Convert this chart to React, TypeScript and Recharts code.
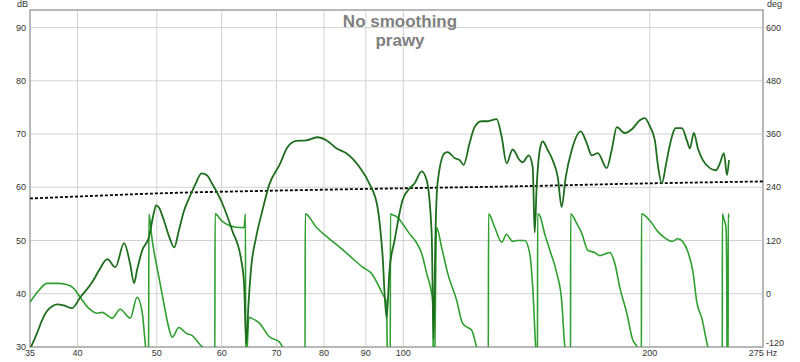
import React from 'react';
import { LineChart, Line, XAxis, YAxis, CartesianGrid, ReferenceArea } from 'recharts';

// Magnitude (dB) – dark green
const magFreq = [35.0, 35.7, 36.2, 36.7, 37.3, 37.8, 38.5, 39.4, 40.3, 41.7, 42.5, 43.5, 44.5, 45.6, 46.4, 46.9, 47.3, 48.0, 48.9, 49.6, 49.9, 50.3, 51.0, 51.8, 52.5, 53.2, 54.0, 54.8, 55.7, 56.7, 57.6, 58.4, 60.1, 61.8, 63.4, 63.9, 64.3, 64.7, 65.2, 66.1, 67.3, 68.6, 70.6, 72.2, 74.0, 76.1, 78.5, 80.6, 82.9, 85.2, 88.4, 90.9, 93.0, 94.3, 95.4, 96.2, 97.6, 99.8, 101.8, 103.2, 105.3, 106.8, 108.3, 108.9, 109.5, 110.1, 112.3, 113.3, 115.5, 117.2, 118.5, 120.5, 122.2, 124.6, 126.8, 130.0, 131.9, 133.7, 136.0, 138.7, 139.9, 142.3, 143.9, 144.7, 145.5, 146.8, 148.0, 150.1, 152.2, 154.4, 156.1, 157.9, 160.6, 164.7, 167.5, 169.9, 172.8, 177.2, 179.7, 182.3, 186.4, 190.2, 194.5, 197.2, 200.0, 202.9, 204.6, 206.9, 209.3, 211.6, 215.2, 218.9, 222.0, 223.9, 226.4, 229.0, 232.2, 236.9, 240.9, 243.6, 246.4, 248.5, 249.9];
const magDb = [29.6, 32.6, 35.0, 36.7, 37.7, 38.0, 37.8, 37.3, 39.3, 42.2, 44.4, 46.5, 45.0, 49.5, 45.5, 42.0, 44.5, 48.2, 50.6, 55.3, 56.6, 56.2, 53.8, 50.6, 48.7, 51.9, 55.7, 58.1, 60.5, 62.6, 62.2, 60.7, 57.0, 51.9, 46.3, 42.0, 30.6, 38.0, 45.0, 50.6, 55.7, 60.5, 64.2, 67.5, 68.7, 68.8, 69.4, 68.8, 67.3, 66.4, 63.8, 60.7, 56.3, 47.6, 35.4, 44.4, 50.1, 57.6, 59.8, 60.7, 63.0, 61.3, 51.4, 31.5, 52.0, 60.7, 66.4, 66.6, 65.5, 65.1, 64.2, 68.3, 71.3, 72.4, 72.4, 72.8, 69.4, 64.5, 67.1, 65.1, 64.7, 66.0, 63.8, 51.5, 60.0, 67.0, 68.6, 67.0, 65.1, 61.9, 56.3, 61.9, 67.0, 70.5, 68.3, 66.0, 66.4, 63.6, 67.0, 71.3, 70.2, 70.9, 72.6, 73.0, 71.5, 68.8, 64.2, 60.7, 64.2, 67.9, 71.1, 71.1, 68.8, 67.3, 70.2, 67.3, 65.1, 63.6, 63.2, 64.5, 66.4, 62.3, 65.1];

// Phase (deg, wrapped) – light green
const phaseFreq = [35.0, 35.9, 36.7, 37.8, 38.8, 39.6, 40.3, 41.3, 42.3, 42.9, 43.5, 44.1, 45.1, 46.4, 47.3, 48.0, 48.4, 48.85, 48.9, 49.3, 50.3, 51.0, 51.8, 52.2, 53.2, 54.3, 55.2, 56.3, 57.1, 58.85, 58.9, 60.1, 61.3, 62.5, 63.9, 64.15, 64.2, 64.8, 65.4, 66.7, 68.6, 70.6, 71.2, 75.85, 75.9, 78.3, 80.8, 83.6, 86.4, 89.2, 91.4, 93.0, 94.3, 95.4, 95.6, 96.4, 96.45, 97.0, 98.4, 99.8, 101.8, 103.8, 105.3, 106.8, 108.3, 108.6, 108.9, 109.1, 109.8, 111.4, 113.3, 116.2, 118.1, 119.8, 121.2, 122.9, 127.0, 127.1, 129.3, 131.9, 133.7, 134.9, 136.0, 137.6, 140.7, 142.7, 143.9, 145.1, 145.85, 145.9, 146.8, 148.8, 151.0, 154.0, 156.1, 157.5, 160.05, 160.1, 162.9, 165.2, 168.0, 171.3, 173.8, 177.2, 178.7, 181.3, 183.8, 187.5, 190.7, 192.9, 195.35, 195.4, 200.0, 204.6, 208.7, 212.8, 216.5, 219.5, 222.6, 225.8, 228.3, 231.6, 235.5, 245.25, 245.3, 246.4, 247.8, 248.3, 248.6, 249.3, 249.35, 249.9];
const phaseDeg = [-19, 8, 23.5, 23.5, 21, 12, -8, -33, -44, -42, -48.6, -55, -35, -55, -8, -44, -112, -180, 180, 127, 37, -22, -82, -98, -76, -89, -94, -112, -125, -180, 180, 163, 154, 150, 149, 180, -180, -53, -56, -66, -97, -109, -120, -180, 180, 150, 127, 105, 82, 60, 46, 23, 0, -20, -120, -180, 180, 178, 172, 158, 135, 115, 91, 46, 1, -15, -200, -200, 150, 104, 46, -15, -66, -76, -82, -120, -180, 180, 150, 116, 134, 125, 118, 120, 120, 91, 15, -120, -180, 180, 176, 136, 98, 46, -15, -120, -180, 180, 158, 136, 98, 93, 86, 91, 93, 68, 15, -44, -105, -120, -180, 180, 165, 140, 126, 118, 124, 117, 95, 50, -19, -56, -120, -180, 180, 168, 150, 60, -180, -180, 180, 172];

// Target – black dotted
const targetFreq = [35, 42, 50, 68.6, 98.9, 138.7, 194.5, 275];
const targetDb = [57.9, 58.4, 58.85, 59.35, 59.8, 60.2, 60.7, 61.1];

const xTicks = [35, 40, 50, 60, 70, 80, 90, 100, 200, 275];
const dbTicks = [30, 40, 50, 60, 70, 80, 90];
const degTicks = [-120, 0, 120, 240, 360, 480, 600];

const titleLine1 = 'No smoothing';
const titleLine2 = 'prawy';

const FONT = '"Liberation Sans", Arial, sans-serif';

function RightTick(props: any) {
  const { x, y, payload } = props;
  const shift = payload.value === -120 ? -4 : 0;
  return (
    <text x={x} y={y + shift} dy="0.355em" textAnchor="start" fontSize={9} fill="#333" fontFamily={FONT}>
      {payload.value}
    </text>
  );
}

export default function App() {
  const magData = magFreq.map((f, i) => ({ f, v: magDb[i] }));
  const phaseData = phaseFreq.map((f, i) => ({ f, v: phaseDeg[i] }));
  const targetData = targetFreq.map((f, i) => ({ f, v: targetDb[i] }));
  const tickStyle = { fontSize: 9, fill: '#333', fontFamily: FONT };

  return (
    <div style={{ position: 'absolute', left: 0, top: 0, width: 800, height: 362, background: '#fff', fontFamily: FONT }}>
      <LineChart width={800} height={362} margin={{ top: 10, right: 0, bottom: 0, left: 0 }}>
        <CartesianGrid xAxisId="x" yAxisId="left" stroke="#d2d2d2" strokeWidth={1} />
        <XAxis
          xAxisId="x"
          dataKey="f"
          type="number"
          scale="log"
          domain={[35, 275]}
          allowDataOverflow
          ticks={xTicks}
          interval={0}
          tickFormatter={(v: number) => (v === 275 ? '275 Hz' : String(v))}
          height={15}
          tickLine={false}
          axisLine={false}
          tickSize={3}
          tickMargin={0}
          tick={tickStyle}
        />
        <YAxis
          yAxisId="left"
          orientation="left"
          width={30}
          type="number"
          domain={[30, 93.3]}
          allowDataOverflow
          ticks={dbTicks}
          interval={0}
          tickLine={false}
          axisLine={false}
          tickSize={4}
          tickMargin={0}
          tick={tickStyle}
        />
        <YAxis
          yAxisId="right"
          orientation="right"
          width={37}
          type="number"
          domain={[-120, 639.6]}
          allowDataOverflow
          ticks={degTicks}
          interval={0}
          tickLine={false}
          axisLine={false}
          tickSize={3}
          tickMargin={0}
          tick={<RightTick />}
        />
        <ReferenceArea xAxisId="x" yAxisId="left" x1={35} x2={275} y1={30} y2={93.3} fill="none" stroke="#b8b8b8" strokeWidth={2} ifOverflow="visible" />
        <Line xAxisId="x" yAxisId="right" data={phaseData} dataKey="v" type="monotone" stroke="#2f9f2f" strokeWidth={1.6} dot={false} activeDot={false} isAnimationActive={false} />
        <Line xAxisId="x" yAxisId="left" data={targetData} dataKey="v" type="monotone" stroke="#000" strokeWidth={1.8} strokeDasharray="3 2" dot={false} activeDot={false} isAnimationActive={false} />
        <Line xAxisId="x" yAxisId="left" data={magData} dataKey="v" type="monotone" stroke="#1e6e1e" strokeWidth={1.8} dot={false} activeDot={false} isAnimationActive={false} />
      </LineChart>
      <div style={{ position: 'absolute', left: 0, top: 12, width: 800, textAlign: 'center', color: '#808080', fontWeight: 'bold', fontSize: 17, lineHeight: '19px', pointerEvents: 'none' }}>
        <div>{titleLine1}</div>
        <div>{titleLine2}</div>
      </div>
      <div style={{ position: 'absolute', left: 0, top: -1, width: 28, textAlign: 'right', fontSize: 9, lineHeight: '11px', color: '#333' }}>dB</div>
      <div style={{ position: 'absolute', left: 767, top: -1, fontSize: 9, lineHeight: '11px', color: '#333' }}>deg</div>
    </div>
  );
}
